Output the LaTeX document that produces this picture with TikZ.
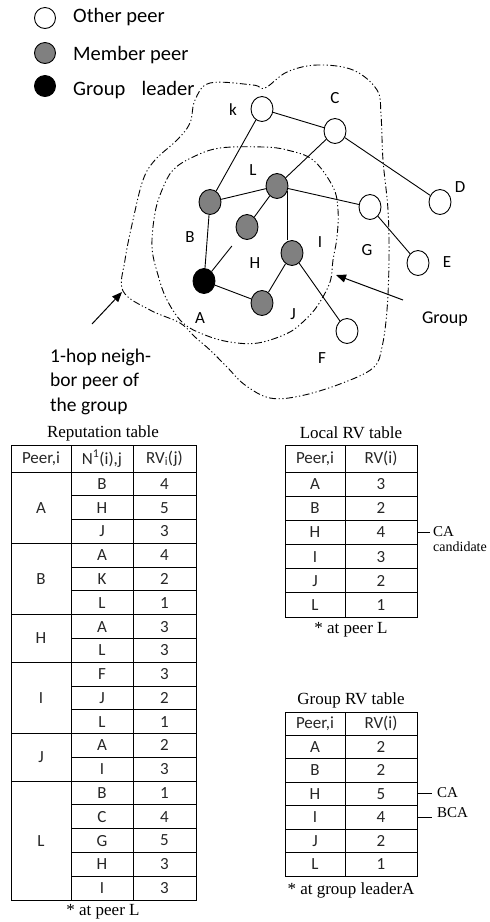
\documentclass[tikz,border=0pt]{standalone}
\usepackage{fontspec}
\setmainfont{Carlito}
\newfontfamily\serif{Liberation Serif}
\usetikzlibrary{shapes.geometric,arrows.meta}
\definecolor{memgray}{HTML}{808080}
\tikzset{
  peer/.style={ellipse, draw, line width=0.9pt, minimum width=22pt, minimum height=25pt, inner sep=0pt},
  other/.style={peer, fill=white},
  member/.style={peer, fill=memgray},
  leader/.style={peer, fill=black},
  legpeer/.style={circle, draw, line width=0.9pt, minimum size=21pt, inner sep=0pt},
  lbl/.style={font=\fontsize{17}{17}\selectfont, inner sep=0pt},
  hoptxt/.style={font=\fontsize{19.5}{19.5}\selectfont, inner sep=0pt, anchor=west},
  legtxt/.style={font=\fontsize{20.5}{20.5}\selectfont, inner sep=0pt, anchor=west},
  edge/.style={line width=0.9pt},
  hull/.style={line width=0.9pt, dash pattern=on 7pt off 2.5pt on 1.2pt off 2.5pt on 1.2pt off 2.5pt},
  arr/.style={line width=1pt, -{Triangle[length=10pt,width=8pt]}},
  grid/.style={line width=0.9pt},
  cell/.style={font=\fontsize{17}{17}\selectfont, inner sep=0pt, text=black!85},
  ttl/.style={font=\serif\fontsize{17}{17}\selectfont, inner sep=0pt},
  note/.style={font=\serif\fontsize{15}{15}\selectfont, inner sep=0pt, anchor=west},
}
\begin{document}
\begin{tikzpicture}[x=1pt, y=-1pt]
\useasboundingbox (0,0) rectangle (490,922);
% legend
\node[legpeer, fill=white] (l1) at (45,18) {};
\node[legpeer, fill=memgray] (l2) at (45,53) {};
\node[legpeer, fill=black] (l3) at (45,86) {};
\node[legtxt] (t1) at (73,17) {Other peer};
\node[legtxt] (t2) at (73,55) {Member peer};
\node[legtxt] (t3) at (73,90) {Group\hspace{0.8em}leader};
% hulls
\draw[hull] plot[smooth cycle, tension=0.6] coordinates {(210,83) (253,85) (265,88) (287,72) (317,65) (353,70) (377,90) (381,115) (383,160) (388,210) (389,260) (387,310) (382,347) (373,368) (340,384) (300,396) (270,398) (245,385) (227,367) (210,350) (195,337) (180,323) (150,310) (123,291) (125,260) (133,220) (143,180) (155,160) (177,140) (190,123) (195,100)};
\draw[hull] plot[smooth cycle, tension=0.6] coordinates {(263,147) (287,150) (313,160) (333,187) (338,210) (337,237) (333,260) (330,282) (318,305) (305,320) (288,333) (258,343) (230,342) (205,335) (183,323) (167,300) (158,275) (152,247) (155,213) (162,190) (173,170) (193,157) (220,148)};
% peers
\node[other] (k) at (262,109) {};
\node[other] (C) at (335,131) {};
\node[member] (L) at (277,186) {};
\node[member] (B) at (210,202) {};
\node[member] (H) at (247,227) {};
\node[other] (G) at (370,207) {};
\node[other] (D) at (440,202) {};
\node[member] (I) at (292,253) {};
\node[other] (E) at (418,263) {};
\node[leader] (A) at (204,281) {};
\node[member] (J) at (262,303) {};
\node[other] (F) at (347,331) {};
% edges
\draw[edge] (k) -- (C);
\draw[edge] (k) -- (B);
\draw[edge] (C) -- (L);
\draw[edge] (C) -- (D);
\draw[edge] (L) -- (B);
\draw[edge] (L) -- (H);
\draw[edge] (L.-25) -- (I.north -| L.-25);
\draw[edge] (L) -- (G);
\draw[edge] (G) -- (E);
\draw[edge] (B) -- (A);
\draw[edge, shorten >=12pt] (A) -- (H);
\draw[edge] (A) -- (J);
\draw[edge] (J) -- (I);
\draw[edge] (I) -- (F);
% labels
\node[lbl] (lk) at (233,110) {k};
\node[lbl] (lC) at (335,98) {C};
\node[lbl] (lL) at (253,170) {L};
\node[lbl] (lB) at (190,237) {B};
\node[lbl] (lH) at (255,263) {H};
\node[lbl] (lI) at (320,242) {I};
\node[lbl] (lG) at (367,250) {G};
\node[lbl] (lE) at (447,262) {E};
\node[lbl] (lD) at (460,187) {D};
\node[lbl] (lA) at (200,318) {A};
\node[lbl] (lJ) at (293,314) {J};
\node[lbl] (lF) at (322,358) {F};
\node[lbl, font=\fontsize{18}{18}\selectfont] (grp) at (445,319) {Group};
\coordinate (g1) at (403,300);
\coordinate (g2) at (336,275);
\draw[arr] (g1) -- (g2);
\node[hoptxt] (hop1) at (50,357) {1-hop neigh-};
\node[hoptxt] (hop2) at (50,381) {bor peer of};
\node[hoptxt] (hop3) at (50,406) {the group};
\coordinate (h1) at (92,324);
\coordinate (h2) at (122,292);
\draw[arr] (h1) -- (h2);
% ---------- Reputation table ----------
\def\rh{23.78}
\node[ttl] (rt) at (103,433) {Reputation table};
\draw[grid] (11,445) rectangle (196,900);
\draw[grid] (71,445) -- (71,900);
\draw[grid] (133,445) -- (133,900);
\draw[grid] (11,472) -- (196,472);
\foreach \k in {1,...,17} {
  \draw[grid] (71,472+\k*\rh) -- (196,472+\k*\rh);
}
\foreach \k in {3,6,8,11,13} {
  \draw[grid] (11,472+\k*\rh) -- (71,472+\k*\rh);
}
\node[cell] (rh1) at (41,458.5) {Peer,i};
\node[cell] (rh2) at (102,458.5) {N\textsuperscript{1}(i),j};
\node[cell] (rh3) at (164.5,458.5) {RV\textsubscript{i}(j)};
\foreach \n/\v/\k in {B/4/0, H/5/1, J/3/2, A/4/3, K/2/4, L/1/5, A/3/6, L/3/7, F/3/8, J/2/9, L/1/10, A/2/11, I/3/12, B/1/13, C/4/14, G/5/15, H/3/16, I/3/17} {
  \node[cell] (rn\k) at (102,472+\k*\rh+0.5*\rh) {\n};
  \node[cell] (rv\k) at (164.5,472+\k*\rh+0.5*\rh) {\v};
}
\foreach \p/\c/\k in {A/1.5/a, B/4.5/b, H/7/h, I/9.5/i, J/12/j, L/15.5/l} {
  \node[cell] (rp\k) at (41,472+\c*\rh) {\p};
}
\node[ttl] (rc) at (103,912) {* at peer L};
% ---------- Local RV table ----------
\def\lh{24.17}
\node[ttl] (lt) at (351,433) {Local RV table};
\draw[grid] (285,445) rectangle (417,617);
\draw[grid] (345,445) -- (345,617);
\foreach \k in {0,...,5} {
  \draw[grid] (285,472+\k*\lh) -- (417,472+\k*\lh);
}
\node[cell] (lh1) at (315,458.5) {Peer,i};
\node[cell] (lh2) at (381,458.5) {RV(i)};
\foreach \n/\v/\k in {A/3/0, B/2/1, H/4/2, I/3/3, J/2/4, L/1/5} {
  \node[cell] (ln\k) at (315,472+\k*\lh+0.5*\lh) {\n};
  \node[cell] (lv\k) at (381,472+\k*\lh+0.5*\lh) {\v};
}
\node[ttl] (lc) at (351,630) {* at peer L};
\coordinate (lca1) at (417,532);
\coordinate (lca2) at (430,532);
\draw[grid] (lca1) -- (lca2);
\node[note] (lcat) at (433,532) {CA};
\node[note, font=\serif\fontsize{14}{14}\selectfont] (lcand) at (433,547) {candidate};
% ---------- Group RV table ----------
\def\gh{23.5}
\node[ttl] (gt) at (351,700) {Group RV table};
\draw[grid] (285,712) rectangle (417,876);
\draw[grid] (345,712) -- (345,876);
\foreach \k in {0,...,5} {
  \draw[grid] (285,735+\k*\gh) -- (417,735+\k*\gh);
}
\node[cell] (gh1) at (315,723.5) {Peer,i};
\node[cell] (gh2) at (381,723.5) {RV(i)};
\foreach \n/\v/\k in {A/2/0, B/2/1, H/5/2, I/4/3, J/2/4, L/1/5} {
  \node[cell] (gn\k) at (315,735+\k*\gh+0.5*\gh) {\n};
  \node[cell] (gv\k) at (381,735+\k*\gh+0.5*\gh) {\v};
}
\node[ttl] (gc) at (351,890) {* at group leaderA};
\coordinate (gca1) at (417,793);
\coordinate (gca2) at (432,793);
\draw[grid] (gca1) -- (gca2);
\node[note] (gcat) at (437,793) {CA};
\coordinate (gbca1) at (417,817);
\coordinate (gbca2) at (432,817);
\draw[grid] (gbca1) -- (gbca2);
\node[note] (gbcat) at (437,813) {BCA};
\end{tikzpicture}
\end{document}
